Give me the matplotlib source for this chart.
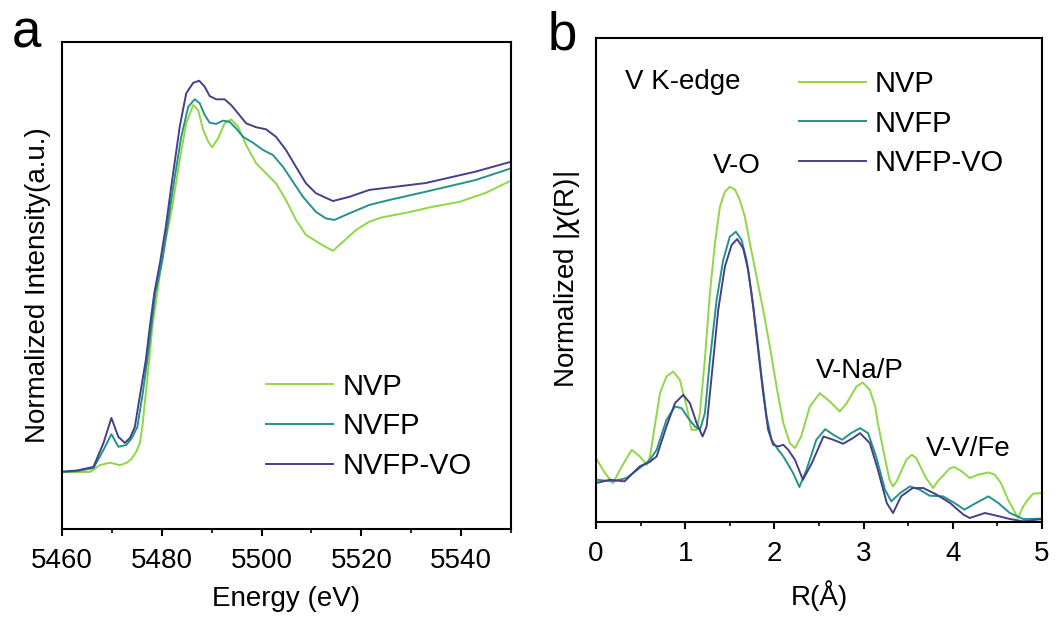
import matplotlib.pyplot as plt
from matplotlib.ticker import MultipleLocator

plt.rcParams['font.family'] = ['Liberation Sans', 'DejaVu Sans']

labels = ['NVP', 'NVFP', 'NVFP-VO']
colors = ['#8fd744', '#23938b', '#45408a']

# Panel a: V K-edge XANES (energy in eV, normalized intensity)
e_nvp = [5460.0, 5465.6, 5467.6, 5469.6, 5471.6, 5472.9, 5473.9, 5474.9, 5475.6, 5476.1,
         5476.8, 5477.5, 5478.1, 5479.1, 5479.9, 5480.9, 5482.1, 5483.6, 5484.9, 5486.3,
         5487.3, 5488.3, 5489.3, 5490.1, 5491.3, 5492.6, 5493.9, 5495.3, 5496.9, 5498.9,
         5500.9, 5502.9, 5504.9, 5506.9, 5508.9, 5511.6, 5514.3, 5516.3, 5518.9, 5521.6,
         5524.0, 5529.6, 5534.0, 5539.6, 5544.9, 5550.0]
i_nvp = [-0.003, -0.003, 0.020, 0.028, 0.020, 0.027, 0.040, 0.065, 0.093, 0.147,
         0.260, 0.370, 0.480, 0.593, 0.690, 0.780, 0.880, 1.037, 1.159, 1.220,
         1.203, 1.137, 1.098, 1.079, 1.109, 1.159, 1.172, 1.148, 1.087, 1.026,
         0.992, 0.959, 0.903, 0.837, 0.787, 0.759, 0.734, 0.764, 0.803, 0.831,
         0.845, 0.863, 0.880, 0.897, 0.927, 0.968]

e_nvfp = [5460.0, 5463.0, 5466.3, 5468.3, 5469.9, 5471.3, 5472.9, 5474.0, 5475.1, 5476.1,
          5477.1, 5477.9, 5478.7, 5480.1, 5481.1, 5482.3, 5483.9, 5485.3, 5486.6, 5487.6,
          5488.6, 5489.6, 5490.9, 5492.3, 5493.6, 5494.9, 5496.3, 5498.3, 5500.3, 5502.3,
          5504.3, 5506.3, 5508.3, 5510.9, 5512.9, 5514.6, 5517.6, 5521.6, 5526.0, 5532.9,
          5542.9, 5550.0]
i_nvfp = [-0.003, 0.000, 0.010, 0.070, 0.123, 0.081, 0.087, 0.110, 0.147, 0.250,
          0.370, 0.480, 0.593, 0.700, 0.813, 0.948, 1.114, 1.214, 1.239, 1.226,
          1.187, 1.161, 1.157, 1.168, 1.164, 1.142, 1.114, 1.094, 1.070, 1.053,
          1.014, 0.964, 0.914, 0.864, 0.842, 0.837, 0.859, 0.887, 0.905, 0.931,
          0.970, 1.009]

e_vo = [5460.0, 5463.0, 5466.3, 5468.3, 5469.9, 5471.3, 5472.6, 5473.6, 5474.6, 5475.7,
        5476.8, 5477.6, 5478.5, 5479.7, 5480.8, 5481.9, 5483.6, 5484.9, 5486.3, 5487.5,
        5488.6, 5489.6, 5490.9, 5492.6, 5493.9, 5495.3, 5496.9, 5498.9, 5500.9, 5502.9,
        5504.9, 5506.9, 5508.9, 5510.9, 5514.3, 5517.6, 5521.6, 5532.9, 5542.9, 5550.0]
i_vo = [-0.002, 0.002, 0.014, 0.093, 0.177, 0.114, 0.094, 0.110, 0.147, 0.260,
        0.370, 0.480, 0.593, 0.700, 0.813, 0.948, 1.148, 1.259, 1.294, 1.301,
        1.281, 1.250, 1.239, 1.239, 1.220, 1.192, 1.159, 1.146, 1.139, 1.114,
        1.070, 1.014, 0.959, 0.926, 0.900, 0.914, 0.937, 0.960, 0.998, 1.031]

# Panel b: Fourier-transformed EXAFS, R in angstrom
r_nvp = [0.00, 0.10, 0.19, 0.29, 0.40, 0.49, 0.57, 0.605, 0.717, 0.79,
         0.866, 0.94, 1.016, 1.07, 1.128, 1.165, 1.22, 1.277, 1.333, 1.389,
         1.445, 1.50, 1.557, 1.613, 1.669, 1.725, 1.80, 1.874, 1.949, 2.024,
         2.10, 2.173, 2.23, 2.30, 2.397, 2.509, 2.621, 2.733, 2.81, 2.92,
         2.99, 3.07, 3.13, 3.16, 3.22, 3.29, 3.33, 3.37, 3.48, 3.54,
         3.59, 3.70, 3.78, 3.83, 3.97, 4.02, 4.10, 4.19, 4.28, 4.40,
         4.47, 4.54, 4.62, 4.68, 4.73, 4.79, 4.84, 4.90, 5.00]
x_nvp = [0.192, 0.147, 0.117, 0.167, 0.217, 0.197, 0.172, 0.197, 0.387, 0.437,
         0.452, 0.427, 0.347, 0.277, 0.277, 0.327, 0.487, 0.687, 0.837, 0.947,
         0.992, 1.007, 0.999, 0.967, 0.917, 0.837, 0.737, 0.637, 0.527, 0.407,
         0.297, 0.237, 0.222, 0.257, 0.347, 0.387, 0.362, 0.332, 0.357, 0.407,
         0.419, 0.397, 0.347, 0.297, 0.217, 0.127, 0.107, 0.122, 0.187, 0.202,
         0.192, 0.132, 0.102, 0.122, 0.162, 0.165, 0.152, 0.132, 0.142, 0.149,
         0.142, 0.117, 0.067, 0.037, 0.012, 0.047, 0.067, 0.085, 0.087]

r_nvfp = [0.00, 0.19, 0.34, 0.49, 0.60, 0.68, 0.79, 0.885, 0.96, 1.034,
          1.109, 1.165, 1.221, 1.277, 1.352, 1.426, 1.50, 1.568, 1.632, 1.688,
          1.744, 1.80, 1.856, 1.912, 1.968, 2.042, 2.10, 2.16, 2.21, 2.28,
          2.36, 2.47, 2.57, 2.66, 2.76, 2.86, 2.96, 3.05, 3.14, 3.24,
          3.31, 3.41, 3.52, 3.63, 3.74, 3.89, 4.02, 4.13, 4.26, 4.40,
          4.51, 4.64, 4.79, 5.00]
x_nvfp = [0.127, 0.122, 0.132, 0.162, 0.185, 0.217, 0.307, 0.347, 0.342, 0.312,
          0.287, 0.277, 0.327, 0.487, 0.667, 0.787, 0.857, 0.872, 0.847, 0.787,
          0.687, 0.567, 0.437, 0.317, 0.247, 0.217, 0.197, 0.170, 0.147, 0.105,
          0.157, 0.247, 0.279, 0.262, 0.247, 0.267, 0.282, 0.267, 0.197, 0.097,
          0.062, 0.087, 0.107, 0.097, 0.079, 0.077, 0.057, 0.037, 0.057, 0.077,
          0.057, 0.027, 0.009, 0.010]

r_vo = [0.00, 0.16, 0.32, 0.49, 0.60, 0.68, 0.79, 0.885, 0.978, 1.053,
        1.128, 1.195, 1.24, 1.296, 1.37, 1.445, 1.52, 1.583, 1.65, 1.706,
        1.762, 1.818, 1.874, 1.93, 1.986, 2.042, 2.10, 2.155, 2.23, 2.32,
        2.42, 2.55, 2.66, 2.77, 2.88, 2.96, 3.07, 3.16, 3.26, 3.33,
        3.42, 3.55, 3.67, 3.82, 3.97, 4.12, 4.19, 4.36, 4.49, 4.64,
        4.79, 5.00]
x_vo = [0.117, 0.127, 0.122, 0.167, 0.180, 0.197, 0.287, 0.357, 0.382, 0.357,
        0.297, 0.257, 0.287, 0.437, 0.637, 0.767, 0.832, 0.850, 0.822, 0.757,
        0.647, 0.517, 0.387, 0.277, 0.232, 0.227, 0.232, 0.217, 0.187, 0.127,
        0.177, 0.257, 0.247, 0.235, 0.252, 0.267, 0.237, 0.157, 0.057, 0.027,
        0.077, 0.102, 0.102, 0.082, 0.057, 0.022, 0.012, 0.027, 0.019, 0.009,
        0.002, 0.009]

W, H = 1059, 619
fig = plt.figure(figsize=(W / 100, H / 100), dpi=100)

def px_axes(x0, y0, x1, y1):
    return fig.add_axes([x0 / W, 1 - y1 / H, (x1 - x0) / W, (y1 - y0) / H])

def style(ax):
    for s in ax.spines.values():
        s.set_linewidth(1.5)
    ax.set_yticks([])
    ax.tick_params(axis='x', which='major', direction='out', length=5, width=1.5,
                   labelsize=20, pad=9)
    ax.tick_params(axis='x', which='minor', direction='out', length=3, width=1.2)

# ---- panel a
ax1 = px_axes(62, 42, 511, 529)
for e, i, c, lab in zip([e_nvp, e_nvfp, e_vo], [i_nvp, i_nvfp, i_vo], colors, labels):
    ax1.plot(e, i, color=c, lw=1.4, label=lab)
ax1.set_xlim(5460, 5550)
ax1.set_ylim(-0.193, 1.43)
ax1.xaxis.set_major_locator(MultipleLocator(20))
ax1.xaxis.set_minor_locator(MultipleLocator(10))
style(ax1)
ax1.set_xlabel('Energy (eV)', fontsize=20, labelpad=8)
ax1.set_ylabel('Normalized Intensity(a.u.)', fontsize=20, labelpad=8)
ax1.legend(loc='upper left', bbox_to_anchor=(0.455, 0.321), frameon=False,
           fontsize=21, handlelength=2.3, handletextpad=0.3, labelspacing=0.4,
           borderpad=0, borderaxespad=0)
fig.text(12 / W, 1 - 47 / H, 'a', fontsize=38)

# ---- panel b
ax2 = px_axes(596, 38, 1042, 522)
for r, x, c, lab in zip([r_nvp, r_nvfp, r_vo], [x_nvp, x_nvfp, x_vo], colors, labels):
    ax2.plot(r, x, color=c, lw=1.4, label=lab)
ax2.set_xlim(0, 5)
ax2.set_ylim(0, 1.454)
ax2.xaxis.set_major_locator(MultipleLocator(1))
ax2.xaxis.set_minor_locator(MultipleLocator(0.5))
style(ax2)
ax2.set_xlabel('R(Å)', fontsize=20, labelpad=9)
ax2.set_ylabel('Normalized |$\\chi$(R)|', fontsize=20, labelpad=10)
ax2.legend(loc='upper left', bbox_to_anchor=(0.455, 0.934), frameon=False,
           fontsize=21, handlelength=2.3, handletextpad=0.3, labelspacing=0.4,
           borderpad=0, borderaxespad=0)
ax2.text(0.325, 1.302, 'V K-edge', fontsize=20, va='baseline')
ax2.text(1.58, 1.047, 'V-O', fontsize=20, ha='center', va='baseline')
ax2.text(2.47, 0.432, 'V-Na/P', fontsize=20, ha='left', va='baseline')
ax2.text(3.70, 0.197, 'V-V/Fe', fontsize=20, ha='left', va='baseline')
fig.text(548 / W, 1 - 50 / H, 'b', fontsize=38)

fig.savefig('out.png', dpi=100)
